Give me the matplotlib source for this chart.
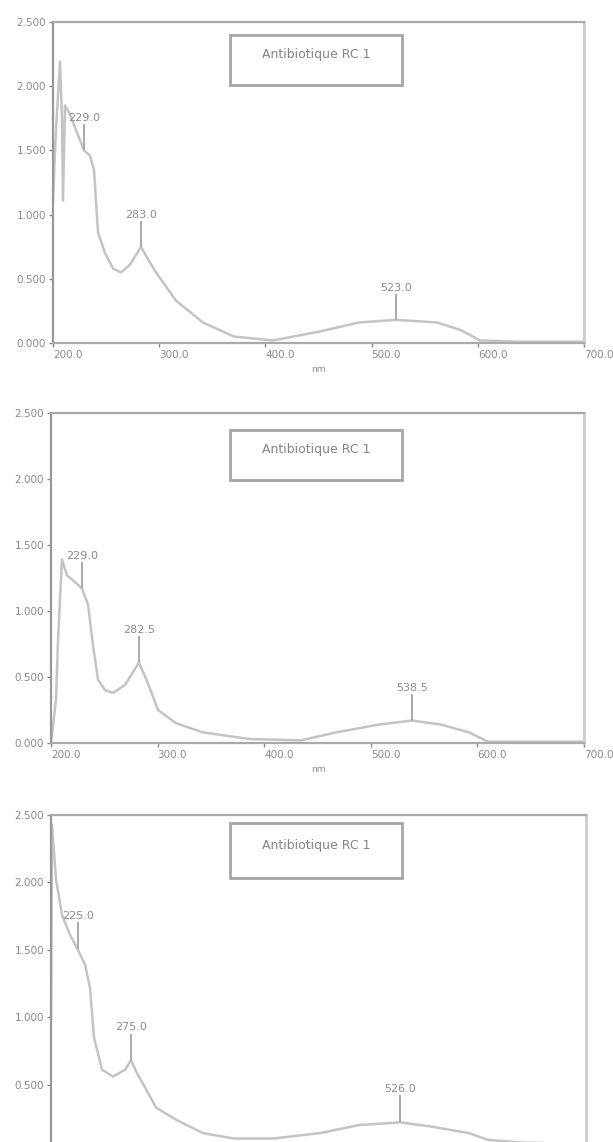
import numpy as np
import matplotlib
matplotlib.use("Agg")
import matplotlib.pyplot as plt
from matplotlib.patches import Rectangle

# ---------------- data ----------------
title_text = "Antibiotique RC 1"
x_ticks = [200.0, 300.0, 400.0, 500.0, 600.0, 700.0]
y_ticks = [0.0, 0.5, 1.0, 1.5, 2.0, 2.5]
x_label = "nm"

nm_1 = [200.0, 202.8, 206.6, 208.5, 209.4, 211.3, 216.0, 223.5, 229.2, 234.8, 238.6, 242.4,
        249.0, 256.5, 264.0, 272.5, 282.9, 289.5, 297.0, 315.8, 341.2, 370.4, 407.2,
        451.4, 488.1, 523.0, 561.6, 584.2, 602.0, 639.7, 700.0]
abs_1 = [1.11, 1.66, 2.19, 1.74, 1.11, 1.85, 1.78, 1.62, 1.50, 1.46, 1.35, 0.86,
         0.70, 0.58, 0.55, 0.61, 0.75, 0.65, 0.55, 0.33, 0.16, 0.05, 0.02,
         0.09, 0.16, 0.18, 0.16, 0.10, 0.02, 0.01, 0.01]
peaks_1 = [229.0, 283.0, 523.0]

nm_2 = [200.0, 204.7, 206.6, 210.3, 215.0, 222.5, 229.1, 234.7, 239.4, 244.1, 250.7,
        258.2, 269.4, 282.5, 291.0, 300.4, 317.3, 342.6, 386.7, 434.5, 467.3, 507.7,
        538.6, 565.8, 592.1, 609.9, 700.0]
abs_2 = [0.00, 0.33, 0.78, 1.39, 1.27, 1.22, 1.17, 1.05, 0.74, 0.48, 0.40,
         0.38, 0.44, 0.61, 0.45, 0.25, 0.15, 0.08, 0.03, 0.02, 0.08, 0.14,
         0.17, 0.14, 0.08, 0.01, 0.01]
peaks_2 = [229.0, 282.5, 538.5]

nm_3 = [200.0, 200.9, 204.7, 210.3, 217.8, 225.2, 231.8, 236.4, 240.2, 247.7, 257.9,
        269.2, 274.8, 281.3, 287.9, 298.1, 316.8, 342.1, 371.0, 407.5, 451.4, 487.9,
        526.2, 554.2, 590.7, 608.4, 640.0, 700.0]
abs_3 = [0.98, 2.43, 2.02, 1.76, 1.61, 1.50, 1.39, 1.22, 0.85, 0.61, 0.56,
         0.61, 0.68, 0.57, 0.48, 0.33, 0.24, 0.14, 0.10, 0.10, 0.14, 0.20,
         0.22, 0.19, 0.14, 0.09, 0.07, 0.06]
peaks_3 = [225.0, 275.0, 526.0]

panels = [(nm_1, abs_1, peaks_1), (nm_2, abs_2, peaks_2), (nm_3, abs_3, peaks_3)]

# ---------------- layout (pixels) ----------------
W, H = 613, 1142
fig = plt.figure(figsize=(W / 100, H / 100), dpi=100)
fig.patch.set_facecolor("white")

rects = [(53, 584, 22, 343), (51, 584, 413, 743), (51, 586, 815, 1152)]
box_px = [(230, 402, 35, 85), (230, 402, 430, 480), (230, 402, 823, 878)]
xlabel_y = [370, 770, None]

line_c = "#c4c4c4"
spine_c = "#aaaaaa"
text_c = "#8a8a8a"

for i, ((nm, ab, pk), (l, r, t, b)) in enumerate(zip(panels, rects)):
    ax = fig.add_axes([l / W, 1 - b / H, (r - l) / W, (b - t) / H])
    ax.plot(nm, ab, color=line_c, lw=1.8, solid_joinstyle="round")
    ax.set_xlim(x_ticks[0], x_ticks[-1])
    ax.set_ylim(y_ticks[0], y_ticks[-1])
    ax.set_xticks(x_ticks)
    ax.set_yticks(y_ticks)
    ax.set_xticklabels([f"{v:.1f}" for v in x_ticks], ha="left")
    ax.set_yticklabels([f"{v:.3f}" for v in y_ticks])
    ax.tick_params(axis="both", labelsize=7.5, colors=text_c, length=3,
                   width=1.0, pad=2)
    if i == 2:
        # x axis of the last panel lies below the page edge
        ax.tick_params(axis="x", labelbottom=False)
        ax.set_yticks(y_ticks[1:])
        ax.set_yticklabels([f"{v:.3f}" for v in y_ticks[1:]])
    for s in ax.spines.values():
        s.set_color(spine_c)
        s.set_linewidth(1.6)
    ax.spines["right"].set_color("#cfcfcf")
    ax.spines["right"].set_linewidth(2.2)
    ax.spines["left"].set_color("#999999")

    # peak annotations
    for p in pk:
        a = float(np.interp(p, nm, ab))
        ax.vlines(p, a, a + 0.2, color="#aaaaaa", lw=1.4)
        ax.text(p, a + 0.21, f"{p:.1f}", ha="center", va="bottom",
                fontsize=8, color="#8c8c8c")

    # title box
    bx0, bx1, by0, by1 = box_px[i]
    fx0 = (bx0 - l) / (r - l)
    fw = (bx1 - bx0) / (r - l)
    fy1 = 1 - (by0 - t) / (b - t)
    fh = (by1 - by0) / (b - t)
    ax.add_patch(Rectangle((fx0, fy1 - fh), fw, fh, transform=ax.transAxes,
                           fill=False, edgecolor="#a6a6a6", lw=2.0, clip_on=False))
    ax.text(fx0 + fw / 2, fy1 - fh * 0.4, title_text, transform=ax.transAxes,
            ha="center", va="center", fontsize=9, color="#858585")

    if xlabel_y[i] is not None:
        fig.text(0.52, 1 - xlabel_y[i] / H, x_label, ha="center", va="center",
                 fontsize=6.5, color=text_c)

fig.savefig("out.png", dpi=100, facecolor="white")
